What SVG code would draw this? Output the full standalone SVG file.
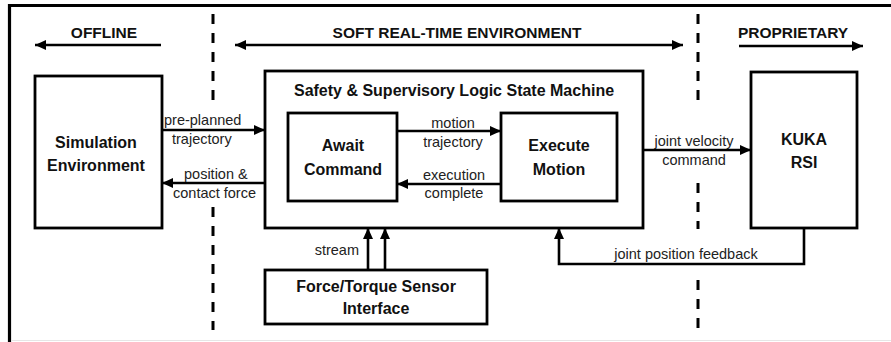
<svg xmlns="http://www.w3.org/2000/svg" width="891" height="342" viewBox="0 0 891 342">
  <style>
    .box { fill: #ffffff; stroke: #000000; stroke-width: 2.8; }
    .wire { fill: none; stroke: #000000; stroke-width: 2.6; }
    .dash { fill: none; stroke: #000000; stroke-width: 3; stroke-dasharray: 10 9; }
    .bold { font-family: "Liberation Sans", Arial, sans-serif; font-weight: bold; font-size: 16px; fill: #111111; text-anchor: middle; dominant-baseline: central; }
    .head { font-family: "Liberation Sans", Arial, sans-serif; font-weight: bold; font-size: 15.5px; fill: #111111; text-anchor: middle; dominant-baseline: central; }
    .lbl { font-family: "Liberation Sans", Arial, sans-serif; font-size: 14.5px; fill: #222222; dominant-baseline: central; }
  </style>
  <defs>
    <marker id="arrow" markerUnits="userSpaceOnUse" markerWidth="11" markerHeight="10" refX="11" refY="5" orient="auto-start-reverse">
      <path d="M0,0 L11,5 L0,10 Z" fill="#000000"/>
    </marker>
  </defs>

  <rect x="0" y="0" width="891" height="342" fill="#ffffff"/>

  <!-- outer frame -->
  <g id="frame">
    <line x1="8" y1="5.5" x2="891" y2="5.5" stroke="#000000" stroke-width="3.2"/>
    <line x1="9.5" y1="4" x2="9.5" y2="342" stroke="#000000" stroke-width="3.2"/>
    <line x1="11" y1="340.5" x2="891" y2="340.5" stroke="#e6e6e6" stroke-width="1"/>
  </g>

  <!-- domain separators -->
  <g id="separators">
    <line class="dash" x1="213" y1="14" x2="213" y2="102"/>
    <line class="dash" x1="213" y1="207" x2="213" y2="330"/>
    <line class="dash" x1="698" y1="14" x2="698" y2="102"/>
    <line class="dash" x1="698" y1="183" x2="698" y2="229"/>
    <line class="dash" x1="698" y1="280" x2="698" y2="330"/>
  </g>

  <!-- domain headings -->
  <g id="domains">
    <text class="head" x="104" y="32">OFFLINE</text>
    <text class="head" x="457" y="32">SOFT REAL-TIME ENVIRONMENT</text>
    <text class="head" x="793" y="32">PROPRIETARY</text>
    <path class="wire" d="M161,45 H35" marker-end="url(#arrow)"/>
    <path class="wire" d="M235,45 H683" marker-start="url(#arrow)" marker-end="url(#arrow)"/>
    <path class="wire" d="M739,46 H863" marker-end="url(#arrow)"/>
  </g>

  <g id="simulation">
    <rect class="box" x="35" y="76" width="127" height="152"/>
    <text class="bold" x="96" y="142">Simulation</text>
    <text class="bold" x="96" y="165">Environment</text>
  </g>

  <g id="state-machine">
    <rect class="box" x="265" y="71" width="378" height="157"/>
    <text class="bold" x="454" y="90" font-size="16.5">Safety &amp; Supervisory Logic State Machine</text>
  </g>

  <g id="await-command">
    <rect class="box" x="288" y="113" width="109" height="88"/>
    <text class="bold" x="343" y="145">Await</text>
    <text class="bold" x="343" y="169">Command</text>
  </g>

  <g id="execute-motion">
    <rect class="box" x="501" y="113" width="116" height="88"/>
    <text class="bold" x="559" y="145">Execute</text>
    <text class="bold" x="559" y="169">Motion</text>
  </g>

  <g id="kuka-rsi">
    <rect class="box" x="751" y="72" width="106" height="156"/>
    <text class="bold" x="804" y="139">KUKA</text>
    <text class="bold" x="804" y="162">RSI</text>
  </g>

  <g id="ft-sensor">
    <rect class="box" x="265" y="270" width="222" height="54"/>
    <text class="bold" x="376" y="286">Force/Torque Sensor</text>
    <text class="bold" x="376" y="308">Interface</text>
  </g>

  <!-- connectors -->
  <g id="connectors">
    <path class="wire" d="M162,130 H265" marker-end="url(#arrow)"/>
    <path class="wire" d="M265,183 H162" marker-end="url(#arrow)"/>
    <path class="wire" d="M397,131 H501" marker-end="url(#arrow)"/>
    <path class="wire" d="M501,184 H397" marker-end="url(#arrow)"/>
    <path class="wire" d="M643,150 H751" marker-end="url(#arrow)"/>
    <path class="wire" d="M804,228 V264 H559 V228" marker-end="url(#arrow)"/>
    <path class="wire" d="M368,270 V228" marker-end="url(#arrow)"/>
    <path class="wire" d="M385,270 V228" marker-end="url(#arrow)"/>
  </g>

  <!-- connector labels -->
  <g id="labels">
    <text class="lbl" x="164" y="120">pre-planned</text>
    <text class="lbl" x="172" y="139">trajectory</text>
    <text class="lbl" x="184" y="174">position &amp;</text>
    <text class="lbl" x="173" y="193">contact force</text>
    <text class="lbl" x="453" y="123" text-anchor="middle">motion</text>
    <text class="lbl" x="453" y="142" text-anchor="middle">trajectory</text>
    <text class="lbl" x="454" y="175" text-anchor="middle">execution</text>
    <text class="lbl" x="454" y="193" text-anchor="middle">complete</text>
    <text class="lbl" x="694" y="141" text-anchor="middle">joint velocity</text>
    <text class="lbl" x="694" y="160" text-anchor="middle">command</text>
    <text class="lbl" x="686" y="254" text-anchor="middle">joint position feedback</text>
    <text class="lbl" x="359" y="250" text-anchor="end">stream</text>
  </g>
</svg>
